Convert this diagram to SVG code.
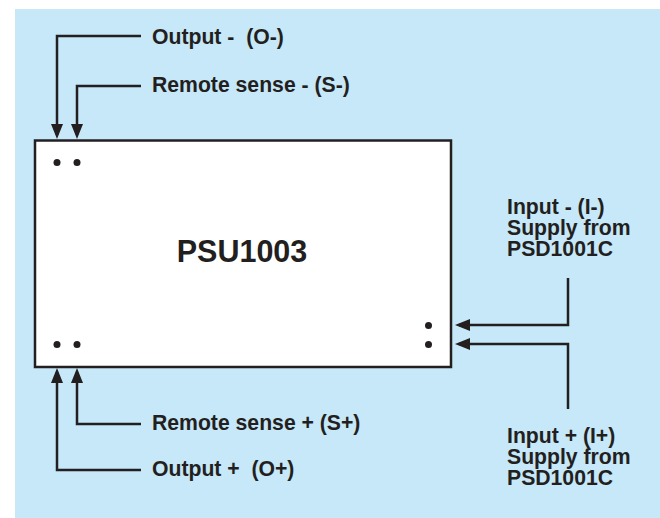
<svg xmlns="http://www.w3.org/2000/svg" width="660" height="518" viewBox="0 0 660 518">
<style>
.bg{fill:#c6e8f8}
.box{fill:#ffffff;stroke:#231f20;stroke-width:2.5}
.wire{fill:none;stroke:#231f20;stroke-width:2.5}
.dot{fill:#231f20}
.lbl{font-family:"Liberation Sans",Arial,Helvetica,sans-serif;font-weight:bold;font-size:21.2px;fill:#231f20;white-space:pre}
.title{font-family:"Liberation Sans",Arial,Helvetica,sans-serif;font-weight:bold;font-size:30.5px;fill:#231f20}
</style>
<defs>
<marker id="arr" viewBox="0 0 15 12" refX="11" refY="6" markerWidth="15" markerHeight="12" markerUnits="userSpaceOnUse" orient="auto">
<path d="M0,0 L15,6 L0,12 Z" fill="#231f20"/>
</marker>
</defs>
<rect class="bg" x="15" y="9" width="645" height="509"/>
<g id="psu1003">
<rect class="box" x="35" y="140.5" width="416" height="226.5"/>
<text class="title" x="242" y="262" text-anchor="middle">PSU1003</text>
<circle class="dot" cx="57" cy="162.5" r="3.5"/>
<circle class="dot" cx="77" cy="162.5" r="3.5"/>
<circle class="dot" cx="57" cy="344.5" r="3.5"/>
<circle class="dot" cx="77" cy="344.5" r="3.5"/>
<circle class="dot" cx="428.5" cy="325.5" r="3.5"/>
<circle class="dot" cx="428.5" cy="344.5" r="3.5"/>
</g>
<g id="label-output-minus"><text class="lbl" x="152" y="43.5" xml:space="preserve">Output -  (O-)</text></g>
<g id="label-sense-minus"><text class="lbl" x="152" y="92">Remote sense - (S-)</text></g>
<g id="label-sense-plus"><text class="lbl" x="152" y="429.5">Remote sense + (S+)</text></g>
<g id="label-output-plus"><text class="lbl" x="152" y="476" xml:space="preserve">Output +  (O+)</text></g>
<g id="label-input-minus">
<text class="lbl" x="507" y="213.5">Input - (I-)</text>
<text class="lbl" x="507" y="234.5">Supply from</text>
<text class="lbl" x="507" y="256">PSD1001C</text>
</g>
<g id="label-input-plus">
<text class="lbl" x="507" y="442.5">Input + (I+)</text>
<text class="lbl" x="507" y="463.5">Supply from</text>
<text class="lbl" x="507" y="484.5">PSD1001C</text>
</g>
<g id="connectors">
<path class="wire" d="M141,36 H57 V135" marker-end="url(#arr)"/>
<path class="wire" d="M141,86 H77 V135" marker-end="url(#arr)"/>
<path class="wire" d="M141,424 H77 V372" marker-end="url(#arr)"/>
<path class="wire" d="M141,470 H57 V372" marker-end="url(#arr)"/>
<path class="wire" d="M568,278 V325 H459" marker-end="url(#arr)"/>
<path class="wire" d="M568,409 V344 H459" marker-end="url(#arr)"/>
</g>
</svg>
